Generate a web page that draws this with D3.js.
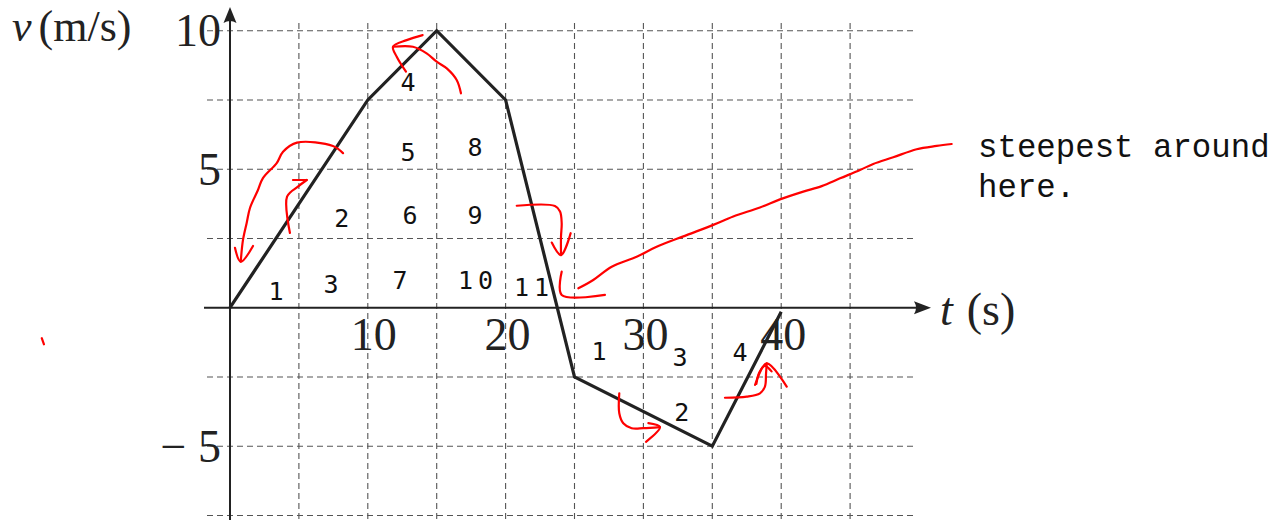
<!DOCTYPE html>
<html>
<head>
<meta charset="utf-8">
<script src="https://cdn.jsdelivr.net/npm/d3@7"></script>
<style>
  html, body { margin: 0; padding: 0; background: #fff; }
  svg { display: block; }
</style>
</head>
<body>
<svg id="chart" width="1272" height="520"></svg>
<script>
// Velocity–time graph: v (m/s) against t (s)
const tValues = [0, 10, 15, 20, 25, 35, 40];
const vValues = [0, 7.5, 10, 7.5, -2.5, -5, -0.15];

// grid spacing and labelled ticks
const gridT = [5, 10, 15, 20, 25, 30, 35, 40, 45];
const gridV = [-7.5, -5, -2.5, 2.5, 5, 7.5, 10];
const xTickValues = [10, 20, 30, 40];
const xTickLabels = ["10", "20", "30", "40"];
const yTickValues = [10, 5, -5];
const yTickLabels = ["10", "5", "\u2212 5"];

// square-counting numbers written on the grid: text, t, v
const countText = ["1", "3", "2", "7", "10", "11", "4", "5", "8", "6", "9", "1", "3", "4", "2"];
const countT = [3.34, 7.33, 8.11, 12.34, 18.0, 22.06, 12.92, 12.92, 17.78, 13.06, 17.78, 26.78, 32.66, 37.01, 32.78];
const countV = [0.60, 0.86, 3.24, 1.00, 1.00, 0.75, 8.15, 5.63, 5.81, 3.35, 3.35, -1.56, -1.78, -1.60, -3.75];

const noteLines = ["steepest around", "here."];

// hand-drawn red ink, each stroke as [t, v] pairs
const inkStrokes = [
  // curved arrow beside the first segment
  [[8.20,5.58],[7.47,5.84],[4.86,5.96],[3.85,5.63],[3.39,5.22],[2.39,4.68],[2.03,4.25],[1.45,3.60],[1.21,3.06],[0.94,2.44],[0.78,1.66]],
  [[0.36,2.16],[0.78,1.66],[1.67,2.23]],
  // small arrow up the first segment
  [[4.35,2.70],[4.14,4.01],[4.93,4.37],[5.57,4.61]],
  [[4.57,4.61],[5.57,4.61]],
  // arrow near the peak
  [[16.76,7.74],[16.45,8.22],[15.73,8.64],[15.0,8.88],[14.27,9.18],[13.28,9.42],[11.83,9.42]],
  [[13.98,9.84],[12.82,9.66],[11.83,9.42],[12.10,9.06],[12.77,8.52]],
  // arrow down the steep segment
  [[20.81,3.68],[23.58,3.67],[23.95,3.47],[24.07,3.05],[24.02,2.56],[24.02,1.90]],
  [[23.35,2.35],[24.02,1.90],[24.72,2.69]],
  // right-angle mark
  [[24.07,1.30],[24.07,0.46],[27.21,0.46]],
  // pointer to the note
  [[25.28,0.70],[26.36,1.00],[27.70,1.48],[29.51,1.84],[30.96,2.20],[33.14,2.62],[35.07,2.99],[36.52,3.29],[38.46,3.62],[39.91,3.91],[41.60,4.19],[42.94,4.39],[44.27,4.67],[45.72,4.97],[46.68,5.19],[48.13,5.43],[49.83,5.72],[51.28,5.84],[52.37,5.91]],
  // arrow along the slow descent
  [[28.25,-3.09],[28.25,-3.81],[28.54,-4.17],[29.15,-4.35],[29.99,-4.35],[31.20,-4.31]],
  [[30.36,-4.17],[31.20,-4.31],[30.19,-4.84]],
  // arrow up the last segment
  [[35.92,-3.25],[37.50,-3.21],[38.46,-3.09],[38.82,-2.85],[38.90,-2.37],[38.95,-2.01]],
  [[38.10,-2.79],[38.95,-2.01],[40.40,-2.85]],
  [[38.2,-2.75],[38.4,-2.35],[38.8,-2.1],[39.3,-2.3]],
  // stray mark
  [[-13.66,-1.10],[-13.50,-1.32]]
];

const svg = d3.select("#chart");
const W = 1272, H = 520;

const x = d3.scaleLinear().domain([0, 40]).range([230, 781.2]);
const y = d3.scaleLinear().domain([-5, 10]).range([446.2, 30.7]);

const ink = "#222";
const serif = "'Liberation Serif', 'Times New Roman', serif";

// dashed grid
const grid = svg.append("g").attr("stroke", "#555").attr("stroke-width", 1.1)
  .attr("stroke-dasharray", "6,4").attr("fill", "none");
grid.selectAll("line.v").data(gridT).join("line")
  .attr("x1", d => x(d)).attr("x2", d => x(d))
  .attr("y1", 23).attr("y2", H);
grid.selectAll("line.h").data(gridV).join("line")
  .attr("x1", 207).attr("x2", 915)
  .attr("y1", d => y(d)).attr("y2", d => y(d));

// axes with arrowheads
const axes = svg.append("g");
axes.append("line").attr("x1", x(0)).attr("x2", x(0)).attr("y1", H).attr("y2", 14)
  .attr("stroke", ink).attr("stroke-width", 2);
axes.append("line").attr("x1", 204).attr("x2", 922).attr("y1", y(0)).attr("y2", y(0))
  .attr("stroke", ink).attr("stroke-width", 2);
const ax = x(0), ay = y(0);
axes.append("path")
  .attr("d", `M${ax},7 L${ax + 6.5},23 Q${ax},19 ${ax - 6.5},23 Z`)
  .attr("fill", ink);
axes.append("path")
  .attr("d", `M931,${ay} L914,${ay - 6.5} Q918,${ay} 914,${ay + 6.5} Z`)
  .attr("fill", ink);

// tick labels
svg.append("g").selectAll("text").data(xTickValues).join("text")
  .attr("x", d => x(d) + (d === 10 ? 6 : 2)).attr("y", 350)
  .attr("text-anchor", "middle")
  .attr("font-family", serif).attr("font-size", 46).attr("fill", ink)
  .text((d, i) => xTickLabels[i]);
svg.append("g").selectAll("text").data(yTickValues).join("text")
  .attr("x", 221).attr("y", d => y(d) + 15.5)
  .attr("text-anchor", "end")
  .attr("font-family", serif).attr("font-size", 46).attr("fill", ink)
  .text((d, i) => yTickLabels[i]);

// axis titles
const yTitle = svg.append("text").attr("x", 12).attr("y", 41)
  .attr("font-family", serif).attr("font-size", 44).attr("fill", ink);
yTitle.append("tspan").attr("font-style", "italic").text("v");
yTitle.append("tspan").attr("dx", 7).text("(m/s)");
const xTitle = svg.append("text").attr("x", 940).attr("y", 325)
  .attr("font-family", serif).attr("font-size", 46).attr("fill", ink);
xTitle.append("tspan").attr("font-style", "italic").text("t");
xTitle.append("tspan").attr("dx", 14).text("(s)");

// the velocity graph
const line = d3.line().x(d => x(d[0])).y(d => y(d[1]));
svg.append("path")
  .datum(tValues.map((t, i) => [t, vValues[i]]))
  .attr("d", line)
  .attr("fill", "none").attr("stroke", ink).attr("stroke-width", 3.2)
  .attr("stroke-linejoin", "miter");

// counted squares
svg.append("g").selectAll("text").data(countText).join("text")
  .attr("x", (d, i) => x(countT[i])).attr("y", (d, i) => y(countV[i]))
  .attr("dy", "0.36em")
  .attr("text-anchor", "middle")
  .attr("letter-spacing", d => d.length > 1 ? 5 : 0)
  .attr("font-family", "'DejaVu Sans Mono', monospace").attr("font-size", 25).attr("fill", "#111")
  .text(d => d);

// note
svg.append("g").selectAll("text").data(noteLines).join("text")
  .attr("x", 978).attr("y", (d, i) => 157 + i * 40)
  .attr("font-family", "'Liberation Mono', 'Courier New', monospace").attr("font-size", 32.4).attr("fill", "#111")
  .text(d => d);

// red ink
const inkLine = d3.line().x(d => x(d[0])).y(d => y(d[1])).curve(d3.curveCatmullRom);
svg.append("g").selectAll("path").data(inkStrokes).join("path")
  .attr("d", inkLine)
  .attr("fill", "none").attr("stroke", "#ff0000").attr("stroke-width", 2.2)
  .attr("stroke-linecap", "round").attr("stroke-linejoin", "round");
</script>
</body>
</html>
